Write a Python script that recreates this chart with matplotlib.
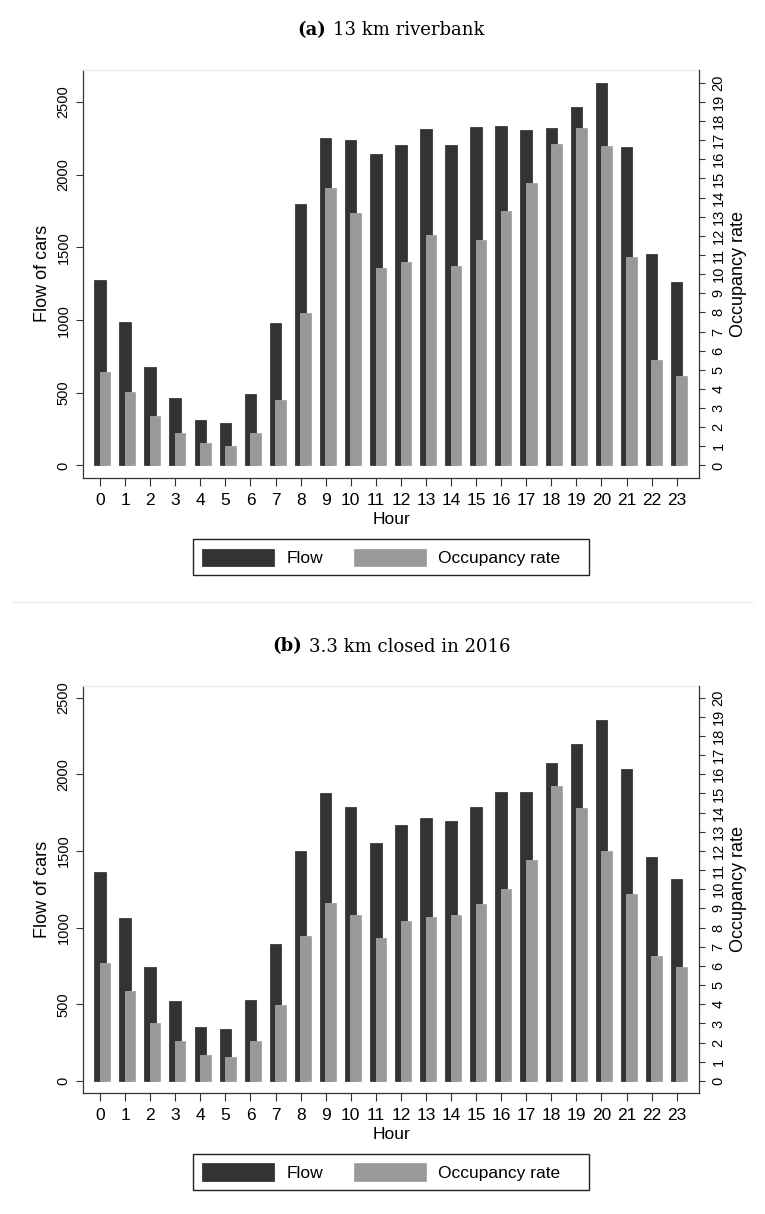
import matplotlib
matplotlib.use("Agg")
import matplotlib.pyplot as plt
from matplotlib.patches import Rectangle
from matplotlib.lines import Line2D
from matplotlib.offsetbox import TextArea, HPacker, AnchoredOffsetbox

plt.rcParams['font.family'] = ['Liberation Sans', 'DejaVu Sans']

# data
hours = list(range(24))
flow_a = [1277, 986, 674, 467, 315, 292, 490, 977, 1796, 2255, 2241, 2144,
          2204, 2317, 2204, 2330, 2337, 2305, 2323, 2466, 2633, 2193, 1456, 1259]
occ_a = [4.90, 3.83, 2.61, 1.71, 1.17, 1.03, 1.71, 3.41, 7.96, 14.52, 13.18, 10.30,
         10.63, 12.02, 10.42, 11.78, 13.28, 14.78, 16.82, 17.64, 16.68, 10.89, 5.49, 4.67]
flow_b = [1363, 1065, 746, 523, 354, 336, 527, 892, 1498, 1878, 1787, 1550,
          1667, 1713, 1693, 1787, 1887, 1887, 2072, 2200, 2352, 2035, 1459, 1315]
occ_b = [6.14, 4.70, 3.04, 2.10, 1.36, 1.23, 2.10, 3.97, 7.57, 9.30, 8.68, 7.48,
         8.33, 8.56, 8.68, 9.22, 10.03, 11.53, 15.37, 14.26, 11.98, 9.74, 6.50, 5.93]
flow_ticks = [0, 500, 1000, 1500, 2000, 2500]
occ_ticks = list(range(21))
titles = [("(a)", "13 km riverbank"), ("(b)", "3.3 km closed in 2016")]

DARK = '#333333'
GREY = '#999999'
W, H = 765, 1214


def panel(rect, flow, occ, title, flow_lim, occ_lim):
    ax = fig.add_axes(rect)
    ax2 = ax.twinx()
    b1 = ax.bar(hours, flow, width=0.46, color=DARK, edgecolor='#262626', lw=0.5, zorder=2)
    b2 = ax2.bar([h + 0.2 for h in hours], occ, width=0.42, color=GREY,
                 edgecolor='#a4a4a4', lw=0.6, zorder=3)
    ax.set_xlim(-0.666, 23.89)
    ax.set_ylim(*flow_lim)
    ax2.set_ylim(*occ_lim)

    ax.set_xticks(hours)
    ax.set_xticklabels([str(h) for h in hours], fontsize=12.5)
    ax.set_yticks(flow_ticks)
    ax.set_yticklabels([str(t) for t in flow_ticks], rotation=90, va='center', fontsize=10.5)
    ax2.set_yticks(occ_ticks)
    ax2.set_yticklabels([str(t) for t in occ_ticks], rotation=90, va='center', fontsize=10.5)

    ax.tick_params(axis='x', length=6, width=0.8, pad=5, color='#333333')
    ax.tick_params(axis='y', length=4.7, width=0.8, pad=4.5, color='#333333')
    ax2.tick_params(axis='y', length=4.5, width=0.8, pad=4.5, color='#333333')

    ax.set_xlabel('Hour', fontsize=12.5, labelpad=3.2)
    ax.set_ylabel('Flow of cars', fontsize=13, labelpad=4)
    ax2.set_ylabel('Occupancy rate', fontsize=13, labelpad=3)

    for s in ['left', 'bottom']:
        ax.spines[s].set_color('#333333')
        ax.spines[s].set_linewidth(0.9)
    ax.spines['top'].set_color('#e3ebee')
    ax.spines['top'].set_linewidth(0.8)
    ax.spines['right'].set_visible(False)
    for s in ['top', 'left', 'bottom']:
        ax2.spines[s].set_visible(False)
    ax2.spines['right'].set_color('#333333')
    ax2.spines['right'].set_linewidth(0.9)

    # title: bold tag + regular text
    tag = TextArea(title[0], textprops=dict(family='DejaVu Serif', fontsize=13, fontweight='bold'))
    txt = TextArea(title[1], textprops=dict(family='DejaVu Serif', fontsize=13))
    box = HPacker(children=[tag, txt], sep=5, pad=0, align='baseline')
    ab = AnchoredOffsetbox(loc='center', child=box, frameon=False, pad=0, borderpad=0,
                           bbox_to_anchor=(0.5, 1.097), bbox_transform=ax.transAxes)
    ax.add_artist(ab)

    # legend below the axis, with its own frame
    ax2.legend([b1, b2], ['Flow', 'Occupancy rate'], ncol=2, loc='center left',
               bbox_to_anchor=(0.1933, -0.1952), bbox_transform=ax.transAxes,
               frameon=False, fontsize=12.5, handlelength=4.14, handleheight=1.15,
               handletextpad=0.71, columnspacing=1.78, borderpad=0, borderaxespad=0)
    ax.add_patch(Rectangle((0.1787, -0.2387), 0.6426, 0.0877, transform=ax.transAxes,
                           fill=False, ec='#222222', lw=1.0, clip_on=False))
    return ax


fig = plt.figure(figsize=(W / 100, H / 100), dpi=100)
left = 83.3 / W
width = (699 - 83.3) / W
panel([left, 1 - 477.7 / H, width, 407.7 / H], flow_a, occ_a, titles[0],
      (-84, 2720), (-0.64, 20.67))
panel([left, 1 - 1092.7 / H, width, 406.7 / H], flow_b, occ_b, titles[1],
      (-76, 2575), (-0.61, 20.6))

# thin separator between the two panels
fig.add_artist(Line2D([12 / W, 753 / W], [1 - 601.7 / H, 1 - 601.7 / H],
                      color='#ececec', lw=0.8))

fig.savefig('out.png', dpi=100)
